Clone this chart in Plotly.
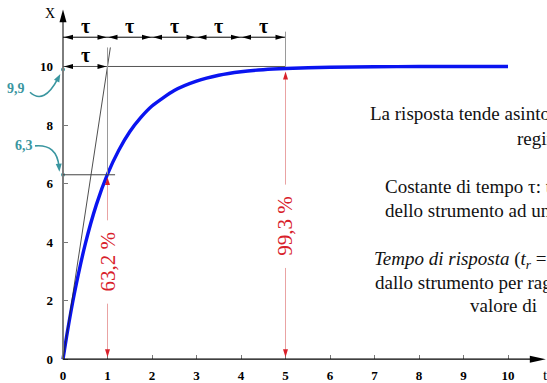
import plotly.graph_objects as go

# ---- data -------------------------------------------------------------
# time in units of tau and the instrument response to a step of amplitude 10
t_vals = [0, 0.1, 0.25, 0.5, 0.75, 1.0, 1.25, 1.5, 1.75, 2.0, 2.5, 3.0,
          3.5, 4.0, 4.5, 5.0, 6.0, 7.0, 8.0, 9.0, 10.0]
x_vals = [0, 0.95, 2.2, 3.93, 5.28, 6.32, 7.13, 7.77, 8.26, 8.65, 9.18, 9.5,
          9.7, 9.82, 9.89, 9.93, 9.975, 9.99, 10.0, 10.0, 10.0]
final_value = 10
tau = 1

x_ticks = list(range(0, 11))
y_ticks = [0, 2, 4, 6, 8, 10]

# percentage of the final value reached after 1 tau and 5 tau
pct_t = [1, 5]
pct_vals = [63.2, 99.3]
pct_text = ["63,2 %", "99,3 %"]
pct_label_y = [3.32, 4.54]

# levels marked on the vertical axis
mark_levels = [9.9, 6.3]
mark_text = ["9,9", "6,3"]

text_lines = [
    "La risposta tende asintoticamente al valore",
    "regime",
    "Costante di tempo \u03c4: tempo impiegato",
    "dello strumento ad un gradino per",
    "<i>Tempo di risposta</i> (<i>t<sub>r</sub></i> = 5\u03c4): tempo impiegato",
    "dallo strumento per raggiungere il 99,3 %",
    "valore di",
]
text_x_px = [368, 515, 383, 383, 372, 373, 468]
text_y_px = [114, 140, 188, 212, 262, 285, 308]

# ---- geometry helpers ---------------------------------------------------
W, H = 547, 383
X_MIN, X_MAX = -63 / 44.5, (W - 63) / 44.5
Y_MIN, Y_MAX = -(H - 362) / 29.5, 362 / 29.5
SX = W / (X_MAX - X_MIN)   # px per x unit
SY = H / (Y_MAX - Y_MIN)   # px per y unit

SERIF = "Liberation Serif, Times New Roman, serif"
TEAL = "#3a96a0"
RED = "#d8202a"
RED_LIGHT = "#e9a3a3"

shapes = []
annotations = []


def seg(x0, y0, x1, y1, color="black", width=1.0):
    shapes.append(dict(type="line", xref="x", yref="y", x0=x0, y0=y0, x1=x1, y1=y1,
                       line=dict(color=color, width=width), layer="above"))


def head(xt, yt, ux, uy, color="black", length=9, width=5):
    """Filled triangular arrowhead with its tip at (xt, yt), pointing along (ux, uy)."""
    n = (ux * ux + uy * uy) ** 0.5
    ux, uy = ux / n, uy / n
    bx, by = -ux * length, -uy * length
    px, py = -uy * width / 2, ux * width / 2
    p1 = (xt + (bx + px) / SX, yt + (by + py) / SY)
    p2 = (xt + (bx - px) / SX, yt + (by - py) / SY)
    shapes.append(dict(type="path", xref="x", yref="y",
                       path=f"M{xt},{yt} L{p1[0]},{p1[1]} L{p2[0]},{p2[1]} Z",
                       fillcolor=color, line=dict(width=0), layer="above"))


def label(x, y, text, size, color="black", bold=False, angle=0, italic=False):
    annotations.append(dict(x=x, y=y, xref="x", yref="y", text=text, showarrow=False,
                            textangle=angle, xanchor="center", yanchor="middle",
                            font=dict(family=SERIF, size=size, color=color,
                                      weight="bold" if bold else "normal",
                                      style="italic" if italic else "normal")))


# ---- axes arrows --------------------------------------------------------
seg(0, 0, 0, 11.6, color="#7d7d7d", width=2)
head(0, 11.95, 0, 1, length=13, width=7)
seg(0, 0, 10.55, 0, color="black", width=1.4)
head(10.85, 0, 1, 0, length=16, width=7)
label(-0.29, 11.8, "X", 14)
label(10.84, -0.54, "t", 15)

# ---- tau construction ---------------------------------------------------
row_y = 11.0
seg(0, row_y, 5 * tau, row_y)
for k in range(5):
    head(k * tau + 1 / SX, row_y, -1, 0)
    head((k + 1) * tau - 1 / SX, row_y, 1, 0)
    label(k * tau + tau / 2, 11.39, "\u03c4", 20, bold=True)

# final value line and one tau span on it
seg(0, final_value, 5 * tau, final_value, color="#555555", width=1)
head(0 + 1 / SX, final_value, -1, 0)
head(tau - 1 / SX, final_value, 1, 0)
label(tau / 2, 10.38, "\u03c4", 20, bold=True)

# tangent at the origin and guide lines
tan_end = 1.065
seg(0, 0, tan_end, final_value / tau * tan_end, color="#222222", width=0.8)
seg(tau, pct_vals[0] / 100 * final_value, tau, final_value / tau * tan_end,
    color="#9a9a9a", width=1)
seg(5 * tau, final_value, 5 * tau, 11.19, color="#9a9a9a", width=1)
seg(0, mark_levels[1], 1.17, mark_levels[1], color="#444444", width=1)

# ---- red percentage markers ---------------------------------------------
gap = 42 / SY
for t, p, txt, ly in zip(pct_t, pct_vals, pct_text, pct_label_y):
    level = p / 100 * final_value
    top_tip = level - 3 / SY
    bot_tip = 0 + 2 / SY
    seg(t, ly + gap, t, top_tip - 4 / SY, color=RED_LIGHT, width=1)
    head(t, top_tip, 0, 1, color=RED, length=8, width=5)
    seg(t, ly - gap, t, bot_tip + 4 / SY, color=RED_LIGHT, width=1)
    head(t, bot_tip, 0, -1, color=RED, length=8, width=5)
    label(t, ly, txt, 21, color=RED, angle=-90)

# ---- teal level markers with curved arrows -----------------------------
curves = [
    ((-0.742, 9.119), (-0.427, 8.678), (-0.112, 9.593)),
    ((-0.629, 7.288), (-0.135, 7.356), (-0.090, 6.576)),
]
label_pos = [(-1.06, 9.25), (-0.87, 7.29)]
for (p0, c, p2), (lx, ly), txt in zip(curves, label_pos, mark_text):
    shapes.append(dict(type="path", xref="x", yref="y",
                       path=f"M{p0[0]},{p0[1]} Q{c[0]},{c[1]} {p2[0]},{p2[1]}",
                       line=dict(color=TEAL, width=1.6), layer="above"))
    ux, uy = (p2[0] - c[0]) * SX, (p2[1] - c[1]) * SY
    n = (ux * ux + uy * uy) ** 0.5
    tip = (p2[0] + 5 * ux / n / SX, p2[1] + 5 * uy / n / SY)
    head(tip[0], tip[1], ux, uy, color=TEAL, length=8, width=6)
    label(lx, ly, txt, 14, color=TEAL, bold=True)

# ---- explanatory text on the right -------------------------------------
for txt, xp, yp in zip(text_lines, text_x_px, text_y_px):
    annotations.append(dict(x=xp / W, y=1 - yp / H, xref="paper", yref="paper",
                            text=txt, showarrow=False, xanchor="left", yanchor="middle",
                            align="left", font=dict(family=SERIF, size=19, color="#111111")))

# ---- figure ------------------------------------------------------------
fig = go.Figure()
fig.add_trace(go.Scatter(x=t_vals, y=x_vals, mode="lines",
                         line=dict(color="#0a14f0", width=3.4, shape="spline", smoothing=0.6),
                         hoverinfo="skip", showlegend=False))
fig.add_trace(go.Scatter(x=[0, 0], y=mark_levels, mode="markers",
                         marker=dict(color=TEAL, size=4), hoverinfo="skip", showlegend=False))

tick_font = dict(family=SERIF, size=13, color="black", weight="bold")
fig.update_layout(
    width=W, height=H, margin=dict(l=0, r=0, t=0, b=0),
    paper_bgcolor="white", plot_bgcolor="white",
    shapes=shapes, annotations=annotations,
    xaxis=dict(range=[X_MIN, X_MAX], domain=[0, 1], anchor="free",
               position=(0 - Y_MIN) / (Y_MAX - Y_MIN),
               tickvals=x_ticks, ticktext=[str(v) for v in x_ticks],
               ticks="inside", ticklen=4, tickcolor="#777777", tickwidth=1,
               showline=False, showgrid=False, zeroline=False, ticklabelstandoff=7,
               tickfont=tick_font),
    yaxis=dict(range=[Y_MIN, Y_MAX], domain=[0, 1], anchor="free",
               position=(0 - X_MIN) / (X_MAX - X_MIN),
               tickvals=y_ticks, ticktext=[str(v) for v in y_ticks],
               ticks="inside", ticklen=4, tickcolor="#777777", tickwidth=1,
               showline=False, showgrid=False, zeroline=False, ticklabelstandoff=10,
               tickfont=tick_font),
)

fig.write_html("out.html")
